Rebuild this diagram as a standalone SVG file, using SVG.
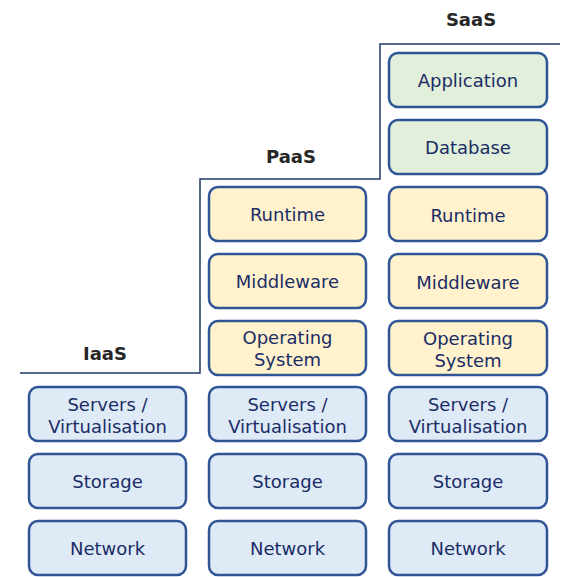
<svg xmlns="http://www.w3.org/2000/svg" width="573" height="577" viewBox="0 0 573 577">
<style>
.b{stroke:#2F5597;stroke-width:2.5}
.blue{fill:#DEEAF6}
.yel{fill:#FFF2CC}
.grn{fill:#E2EFDA}
.t{font-family:"DejaVu Sans",Verdana,sans-serif;font-size:18px;fill:#1A2D66;text-anchor:middle;dominant-baseline:central}
.h{font-family:"DejaVu Sans",Verdana,sans-serif;font-size:18px;font-weight:bold;fill:#262626;text-anchor:middle}
</style>
<rect width="573" height="577" fill="#fff"/>
<g id="connectors">
<path d="M20,373 H200 V179 H380 V44 H560" fill="none" stroke="#1F3864" stroke-width="1.5"/>
</g>
<g id="titles">
<text class="h" x="471" y="26">SaaS</text>
<text class="h" x="291" y="163">PaaS</text>
<text class="h" x="105" y="360">IaaS</text>
</g>
<g id="iaas-servers"><rect class="b blue" x="29" y="387" width="157" height="54" rx="9"/><text class="t" x="107.5" y="404">Servers /</text><text class="t" x="107.5" y="426">Virtualisation</text></g>
<g id="iaas-storage"><rect class="b blue" x="29" y="454" width="157" height="54" rx="9"/><text class="t" x="107.5" y="481">Storage</text></g>
<g id="iaas-network"><rect class="b blue" x="29" y="521" width="157" height="54" rx="9"/><text class="t" x="107.5" y="548">Network</text></g>
<g id="paas-runtime"><rect class="b yel" x="209" y="187" width="157" height="54" rx="9"/><text class="t" x="287.5" y="214">Runtime</text></g>
<g id="paas-middleware"><rect class="b yel" x="209" y="254" width="157" height="54" rx="9"/><text class="t" x="287.5" y="281">Middleware</text></g>
<g id="paas-os"><rect class="b yel" x="209" y="321" width="157" height="54" rx="9"/><text class="t" x="287.5" y="337">Operating</text><text class="t" x="287.5" y="359">System</text></g>
<g id="paas-servers"><rect class="b blue" x="209" y="387" width="157" height="54" rx="9"/><text class="t" x="287.5" y="404">Servers /</text><text class="t" x="287.5" y="426">Virtualisation</text></g>
<g id="paas-storage"><rect class="b blue" x="209" y="454" width="157" height="54" rx="9"/><text class="t" x="287.5" y="481">Storage</text></g>
<g id="paas-network"><rect class="b blue" x="209" y="521" width="157" height="54" rx="9"/><text class="t" x="287.5" y="548">Network</text></g>
<g id="saas-application"><rect class="b grn" x="389" y="53" width="158" height="54" rx="9"/><text class="t" x="468" y="80">Application</text></g>
<g id="saas-database"><rect class="b grn" x="389" y="120" width="158" height="54" rx="9"/><text class="t" x="468" y="147">Database</text></g>
<g id="saas-runtime"><rect class="b yel" x="389" y="187" width="158" height="54" rx="9"/><text class="t" x="468" y="215">Runtime</text></g>
<g id="saas-middleware"><rect class="b yel" x="389" y="254" width="158" height="54" rx="9"/><text class="t" x="468" y="282">Middleware</text></g>
<g id="saas-os"><rect class="b yel" x="389" y="321" width="158" height="54" rx="9"/><text class="t" x="468" y="338">Operating</text><text class="t" x="468" y="360">System</text></g>
<g id="saas-servers"><rect class="b blue" x="389" y="387" width="158" height="54" rx="9"/><text class="t" x="468" y="404">Servers /</text><text class="t" x="468" y="426">Virtualisation</text></g>
<g id="saas-storage"><rect class="b blue" x="389" y="454" width="158" height="54" rx="9"/><text class="t" x="468" y="481">Storage</text></g>
<g id="saas-network"><rect class="b blue" x="389" y="521" width="158" height="54" rx="9"/><text class="t" x="468" y="548">Network</text></g>
</svg>
